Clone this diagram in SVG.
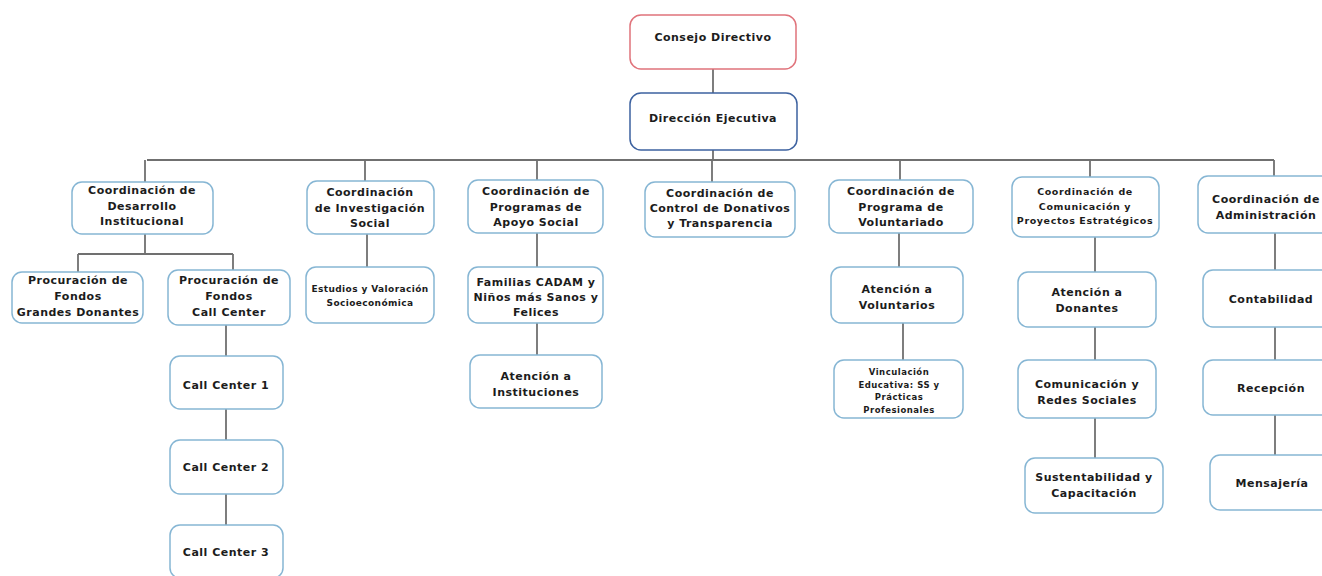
<svg xmlns="http://www.w3.org/2000/svg" width="1322" height="576" viewBox="0 0 1322 576">
<style>
.bx{fill:#fff;stroke:#86b6d4;stroke-width:1.5}
.red{fill:#fff;stroke:#e0737b;stroke-width:1.5}
.blue{fill:#fff;stroke:#3d62a0;stroke-width:1.5}
.t{font-family:"DejaVu Sans",sans-serif;font-weight:bold;font-size:11px;fill:#1c1c1c;text-anchor:middle;letter-spacing:0.5px}
.s{font-size:9px;letter-spacing:0.4px}
.m{font-size:9.5px;letter-spacing:0.6px}
.v{font-size:8.5px;letter-spacing:0.5px}
.c{stroke:#707070;stroke-width:1.8;fill:none}
</style>
<rect width="1322" height="576" fill="#fff"/>
<g id="connectors">
<path class="c" d="M713 69V93M713 150V160M147 160H1274"/>
<path class="c" d="M145 160V182M365 160V181M537 160V180M712 160V182M900 160V180M1090 160V177M1274 160V176"/>
<path class="c" d="M145 234V254M78 254H233M78 254V272M233 254V270"/>
<path class="c" d="M226 325V356M226 409V440M226 494V525"/>
<path class="c" d="M367 234V267"/>
<path class="c" d="M537 233V267M537 323V355"/>
<path class="c" d="M899 233V267M903 323V360"/>
<path class="c" d="M1095 237V272M1095 327V360M1095 418V458"/>
<path class="c" d="M1275 233V270M1275 327V360M1275 415V455"/>
</g>
<g id="n-consejo"><rect class="red" x="630" y="15" width="166" height="54" rx="11"/><text class="t" x="713" y="41">Consejo Directivo</text></g>
<g id="n-direccion"><rect class="blue" x="630" y="93" width="167" height="57" rx="11"/><text class="t" x="713" y="122">Dirección Ejecutiva</text></g>
<g id="n-desarrollo"><rect class="bx" x="72" y="182" width="141" height="52" rx="10"/><text class="t" x="142" y="194">Coordinación de<tspan x="142" dy="15.5">Desarrollo</tspan><tspan x="142" dy="15.5">Institucional</tspan></text></g>
<g id="n-grandes"><rect class="bx" x="12" y="272" width="131" height="51" rx="10"/><text class="t" x="78" y="284">Procuración de<tspan x="78" dy="16">Fondos</tspan><tspan x="78" dy="16">Grandes Donantes</tspan></text></g>
<g id="n-callcenter"><rect class="bx" x="168" y="270" width="122" height="55" rx="10"/><text class="t" x="229" y="284">Procuración de<tspan x="229" dy="16">Fondos</tspan><tspan x="229" dy="16">Call Center</tspan></text></g>
<g id="n-cc1"><rect class="bx" x="170" y="356" width="113" height="53" rx="10"/><text class="t" x="226" y="389">Call Center 1</text></g>
<g id="n-cc2"><rect class="bx" x="170" y="440" width="113" height="54" rx="10"/><text class="t" x="226" y="471">Call Center 2</text></g>
<g id="n-cc3"><rect class="bx" x="170" y="525" width="113" height="53" rx="10"/><text class="t" x="226" y="556">Call Center 3</text></g>
<g id="n-investigacion"><rect class="bx" x="307" y="181" width="127" height="53" rx="10"/><text class="t" x="370" y="196">Coordinación<tspan x="370" dy="15.5">de Investigación</tspan><tspan x="370" dy="15.5">Social</tspan></text></g>
<g id="n-estudios"><rect class="bx" x="306" y="267" width="128" height="56" rx="10"/><text class="t s" x="370" y="292">Estudios y Valoración<tspan x="370" dy="13.5">Socioeconómica</tspan></text></g>
<g id="n-programas"><rect class="bx" x="468" y="180" width="135" height="53" rx="10"/><text class="t" x="536" y="195">Coordinación de<tspan x="536" dy="15.5">Programas de</tspan><tspan x="536" dy="15.5">Apoyo Social</tspan></text></g>
<g id="n-familias"><rect class="bx" x="468" y="267" width="135" height="56" rx="10"/><text class="t" x="536" y="286">Familias CADAM y<tspan x="536" dy="15">Niños más Sanos y</tspan><tspan x="536" dy="15">Felices</tspan></text></g>
<g id="n-instituciones"><rect class="bx" x="470" y="355" width="132" height="53" rx="10"/><text class="t" x="536" y="380">Atención a<tspan x="536" dy="15.5">Instituciones</tspan></text></g>
<g id="n-control"><rect class="bx" x="645" y="182" width="150" height="55" rx="10"/><text class="t" x="720" y="197">Coordinación de<tspan x="720" dy="15">Control de Donativos</tspan><tspan x="720" dy="15">y Transparencia</tspan></text></g>
<g id="n-voluntariado"><rect class="bx" x="829" y="180" width="144" height="53" rx="10"/><text class="t" x="901" y="195">Coordinación de<tspan x="901" dy="15.5">Programa de</tspan><tspan x="901" dy="15.5">Voluntariado</tspan></text></g>
<g id="n-voluntarios"><rect class="bx" x="831" y="267" width="132" height="56" rx="10"/><text class="t" x="897" y="293">Atención a<tspan x="897" dy="15.5">Voluntarios</tspan></text></g>
<g id="n-vinculacion"><rect class="bx" x="834" y="360" width="129" height="58" rx="10"/><text class="t v" x="899" y="375">Vinculación<tspan x="899" dy="12.5">Educativa: SS y</tspan><tspan x="899" dy="12.5">Prácticas</tspan><tspan x="899" dy="12.5">Profesionales</tspan></text></g>
<g id="n-comunicacion"><rect class="bx" x="1012" y="177" width="147" height="60" rx="10"/><text class="t m" x="1085" y="195">Coordinación de<tspan x="1085" dy="14.5">Comunicación y</tspan><tspan x="1085" dy="14.5">Proyectos Estratégicos</tspan></text></g>
<g id="n-donantes"><rect class="bx" x="1018" y="272" width="138" height="55" rx="10"/><text class="t" x="1087" y="296">Atención a<tspan x="1087" dy="16">Donantes</tspan></text></g>
<g id="n-redes"><rect class="bx" x="1018" y="360" width="138" height="58" rx="10"/><text class="t" x="1087" y="388">Comunicación y<tspan x="1087" dy="16">Redes Sociales</tspan></text></g>
<g id="n-sustentabilidad"><rect class="bx" x="1025" y="458" width="138" height="55" rx="10"/><text class="t" x="1094" y="481">Sustentabilidad y<tspan x="1094" dy="16">Capacitación</tspan></text></g>
<g id="n-administracion"><rect class="bx" x="1198" y="176" width="140" height="57" rx="10"/><text class="t" x="1266" y="203">Coordinación de<tspan x="1266" dy="16">Administración</tspan></text></g>
<g id="n-contabilidad"><rect class="bx" x="1203" y="270" width="135" height="57" rx="10"/><text class="t" x="1271" y="303">Contabilidad</text></g>
<g id="n-recepcion"><rect class="bx" x="1203" y="360" width="135" height="55" rx="10"/><text class="t" x="1271" y="392">Recepción</text></g>
<g id="n-mensajeria"><rect class="bx" x="1210" y="455" width="130" height="55" rx="10"/><text class="t" x="1272" y="487">Mensajería</text></g>
</svg>
